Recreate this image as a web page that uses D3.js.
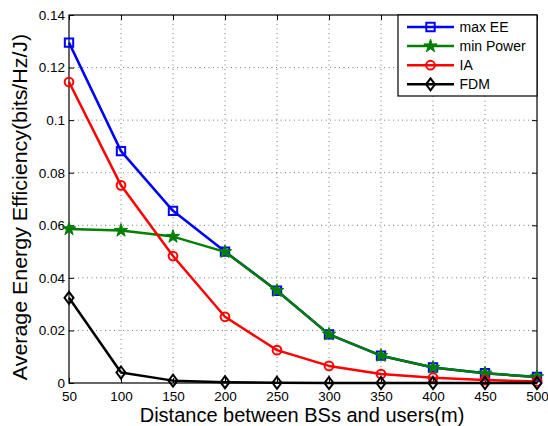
<!DOCTYPE html>
<html>
<head>
<meta charset="utf-8">
<script src="https://cdn.jsdelivr.net/npm/d3@7"></script>
<style>
  body { margin: 0; background: #fff; }
  svg { font-family: "Liberation Sans", Arial, sans-serif; }
</style>
</head>
<body>
<svg id="chart" width="548" height="426"></svg>
<script>
// data
const distances = [50, 100, 150, 200, 250, 300, 350, 400, 450, 500]
const maxEE    = [0.1295, 0.0882, 0.0655, 0.0500, 0.0351, 0.0185, 0.0104, 0.0059, 0.0037, 0.0023]
const minPower = [0.0586, 0.0580, 0.0557, 0.0499, 0.0351, 0.0185, 0.0104, 0.0059, 0.0037, 0.0023]
const ia       = [0.1145, 0.0752, 0.0483, 0.0252, 0.0125, 0.0065, 0.0034, 0.0020, 0.0011, 0.0006]
const fdm      = [0.0324, 0.0040, 0.0009, 0.0003, 0.0001, 0.0000, 0.0000, 0.0000, 0.0000, 0.0000]
const yTicks   = [0, 0.02, 0.04, 0.06, 0.08, 0.1, 0.12, 0.14]

const series = [
    { name: 'max EE',    values: maxEE,    color: '#0000ff', marker: 'square' },
    { name: 'min Power', values: minPower, color: '#007f00', marker: 'star' },
    { name: 'IA',        values: ia,       color: '#ff0000', marker: 'circle' },
    { name: 'FDM',       values: fdm,      color: '#000000', marker: 'diamond' }
]

const svg = d3.select('#chart')
const margin = { top: 15, right: 11, bottom: 43, left: 69 }
const width = 548 - margin.left - margin.right
const height = 426 - margin.top - margin.bottom

const g = svg.append('g').attr('transform', `translate(${margin.left},${margin.top})`)

const x = d3.scaleLinear().domain([50, 500]).range([0, width])
const y = d3.scaleLinear().domain([0, 0.14]).range([height, 0])

// dotted grid
const grid = g.append('g')
grid.selectAll('.gx')
    .data(distances.slice(1, -1))
    .join('line')
    .attr('x1', d => x(d)).attr('x2', d => x(d))
    .attr('y1', 0).attr('y2', height)
grid.selectAll('.gy')
    .data(yTicks.slice(1, -1))
    .join('line')
    .attr('x1', 0).attr('x2', width)
    .attr('y1', d => y(d)).attr('y2', d => y(d))
grid.selectAll('line')
    .attr('stroke', '#555')
    .attr('stroke-width', 0.8)
    .attr('stroke-dasharray', '1,3.5')

// axes, ticks pointing inward, mirrored on top / right
const fmt = d => d3.format('~g')(d)
const axisStyle = sel => {
    sel.select('.domain').remove()
    sel.selectAll('.tick line').attr('stroke', '#000')
    sel.selectAll('.tick text').attr('fill', '#000').style('font-size', '13.5px')
}
g.append('g').attr('transform', `translate(0,${height})`)
    .call(d3.axisBottom(x).tickValues(distances).tickSize(-5).tickPadding(8))
    .call(axisStyle)
g.append('g')
    .call(d3.axisLeft(y).tickValues(yTicks).tickFormat(fmt).tickSize(-5).tickPadding(4))
    .call(axisStyle)
g.append('g')
    .call(d3.axisTop(x).tickValues(distances).tickSize(-5).tickFormat(''))
    .call(axisStyle)
g.append('g').attr('transform', `translate(${width},0)`)
    .call(d3.axisRight(y).tickValues(yTicks).tickSize(-5).tickFormat(''))
    .call(axisStyle)

g.append('rect')
    .attr('width', width).attr('height', height)
    .attr('fill', 'none').attr('stroke', '#000').attr('stroke-width', 1.2)

// markers
const symbolOf = {
    square: d3.symbol().type(d3.symbolSquare).size(70),
    star: d3.symbol().type(d3.symbolStar).size(55),
    circle: d3.symbol().type(d3.symbolCircle).size(60)
}
function drawMarker(sel, s) {
    const p = sel.append('path')
        .attr('fill', s.marker === 'star' ? s.color : 'none')
        .attr('stroke', s.color)
        .attr('stroke-width', s.marker === 'star' ? 1 : 2)
    if (s.marker === 'diamond') p.attr('d', 'M0,-6L4.5,0L0,6L-4.5,0Z')
    else p.attr('d', symbolOf[s.marker]())
}

const line = d3.line().x((d, i) => x(distances[i])).y(d => y(d))

series.forEach(s => {
    const sg = g.append('g')
    sg.append('path')
        .attr('d', line(s.values))
        .attr('fill', 'none')
        .attr('stroke', s.color)
        .attr('stroke-width', 2.5)
        .attr('stroke-linejoin', 'round')
    sg.selectAll('g')
        .data(s.values)
        .join('g')
        .attr('transform', (d, i) => `translate(${x(distances[i])},${y(d)})`)
        .each(function () { drawMarker(d3.select(this), s) })
})

// legend
const lg = g.append('g').attr('transform', `translate(${x(500) - 139},0)`)
lg.append('rect')
    .attr('width', 139).attr('height', 81)
    .attr('fill', '#fff').attr('stroke', '#000').attr('stroke-width', 1.2)
series.forEach((s, i) => {
    const row = lg.append('g').attr('transform', `translate(0,${12 + i * 19.1})`)
    row.append('line')
        .attr('x1', 9).attr('x2', 56)
        .attr('stroke', s.color).attr('stroke-width', 2.5)
    const m = row.append('g').attr('transform', 'translate(32.5,0)')
    drawMarker(m, s)
    row.append('text')
        .attr('x', 61.5).attr('y', 5)
        .style('font-size', '14px')
        .text(s.name)
})

// axis titles
svg.append('text')
    .attr('x', margin.left + width / 2 - 1).attr('y', 422)
    .attr('text-anchor', 'middle')
    .style('font-size', '20px')
    .text('Distance between BSs and users(m)')
// the reference's y title is a bit longer than the x one at the same size
svg.append('text')
    .attr('transform', `translate(27,${margin.top + height / 2 + 8}) rotate(-90) scale(1.07,1)`)
    .attr('text-anchor', 'middle')
    .style('font-size', '20px')
    .text('Average Energy Efficiency(bits/Hz/J)')
</script>
</body>
</html>
